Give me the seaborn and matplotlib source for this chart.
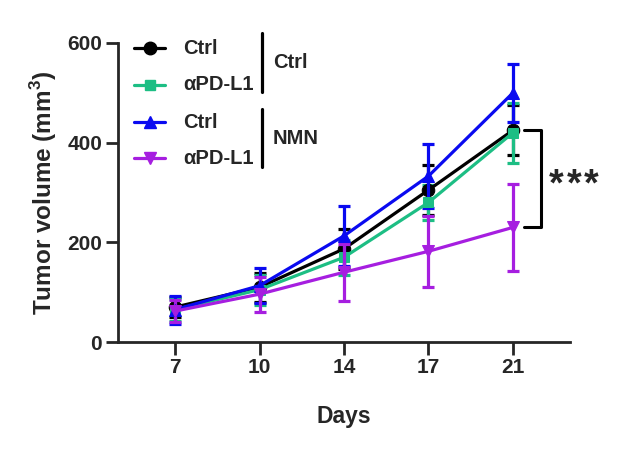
import matplotlib
matplotlib.use("Agg")
import matplotlib.pyplot as plt
from matplotlib.lines import Line2D
import seaborn as sns
import pandas as pd
import numpy as np

days = ["7", "10", "14", "17", "21"]
ctrl_ctrl = [70, 110, 187, 305, 425]
ctrl_ctrl_err = [20, 29, 40, 50, 50]
ctrl_pd = [65, 105, 170, 280, 420]
ctrl_pd_err = [22, 30, 35, 35, 60]
nmn_ctrl = [65, 113, 213, 333, 500]
nmn_ctrl_err = [28, 35, 60, 65, 58]
nmn_pd = [62, 96, 140, 182, 230]
nmn_pd_err = [22, 35, 57, 71, 88]

legend_labels = ["Ctrl", "αPD-L1", "Ctrl", "αPD-L1"]
group_labels = ["Ctrl", "NMN"]
series = [
    ("Ctrl/Ctrl", ctrl_ctrl, ctrl_ctrl_err, "#000000", "o", 9),
    ("Ctrl/aPD-L1", ctrl_pd, ctrl_pd_err, "#1DBE84", "s", 7.5),
    ("NMN/Ctrl", nmn_ctrl, nmn_ctrl_err, "#0A0AF0", "^", 8),
    ("NMN/aPD-L1", nmn_pd, nmn_pd_err, "#A61EE0", "v", 8),
]

sns.set_style("ticks")
plt.rcParams["font.family"] = ["Liberation Sans", "DejaVu Sans"]
plt.rcParams["font.weight"] = "bold"
plt.rcParams["mathtext.fontset"] = "custom"
plt.rcParams["mathtext.bf"] = "Liberation Sans:bold"
plt.rcParams["mathtext.rm"] = "Liberation Sans:bold"

W, H = 641, 449
fig = plt.figure(figsize=(W / 100, H / 100), dpi=100)
ax = fig.add_axes([118 / W, 1 - 342 / H, (570 - 118) / W, (342 - 43) / H])

x = np.arange(len(days))
rows = []
for name, m, e, c, mk, ms in series:
    for i, d in enumerate(days):
        rows.append({"pos": i, "val": m[i], "grp": name})
df = pd.DataFrame(rows)

draw_order = [3, 2, 1, 0]
for k in draw_order:
    name, m, e, c, mk, ms = series[k]
    ax.errorbar(x, m, yerr=e, fmt="none", ecolor=c, elinewidth=2.3, capsize=4.5, capthick=2.3, zorder=2 + k)
    sub = df[df["grp"] == name]
    sns.lineplot(data=sub, x="pos", y="val", ax=ax, color=c, marker=mk, markersize=ms,
                 markeredgecolor=c, linewidth=2.3, errorbar=None, zorder=3 + k, legend=False)

ax.set_xlim(-0.675, 4.675)
ax.set_ylim(0, 600)
ax.set_yticks([0, 200, 400, 600])
ax.set_xticks(x)
ax.set_xticklabels(days)
ax.tick_params(axis="both", width=2, length=9, labelsize=15, pad=2.5)
for lab in ax.get_xticklabels() + ax.get_yticklabels():
    lab.set_fontweight("bold")
for s in ["left", "bottom"]:
    ax.spines[s].set_linewidth(2)
sns.despine(ax=ax)
ax.set_xlabel("Days", fontsize=16.5, fontweight="bold", labelpad=20)
ax.set_ylabel("Tumor volume (mm$^{3}$)", fontsize=17.5, fontweight="bold", labelpad=6)

# significance bracket
xb = 4.33
xt = 4.13
top = ctrl_ctrl[-1]
bot = nmn_pd[-1]
ax.plot([xt, xb, xb, xt], [top, top, bot, bot], color="black", lw=2.2, clip_on=False)
for j in range(3):
    ax.annotate("*", xy=(4.43, (top + bot) / 2), xytext=(j * 12.3, -12), textcoords="offset points",
                fontsize=27, fontweight="bold", va="baseline", ha="left", annotation_clip=False)

# manual legend
def fx(px):
    return px / W
def fy(py):
    return 1 - py / H

row_y = [48, 85, 122, 158]
for i, (name, m, e, c, mk, ms) in enumerate(series):
    y = fy(row_y[i])
    fig.add_artist(Line2D([fx(134), fx(165)], [y, y], color=c, lw=2.3, transform=fig.transFigure))
    fig.add_artist(Line2D([fx(149.5)], [y], color=c, marker=mk, markersize=ms, transform=fig.transFigure))
    fig.text(fx(183), y, legend_labels[i], fontsize=14.5, fontweight="bold", va="center", ha="left")

for g, (y0, y1) in enumerate([(33, 92), (109, 167)]):
    fig.add_artist(Line2D([fx(262), fx(262)], [fy(y0), fy(y1)], color="black", lw=2.3, transform=fig.transFigure))
    fig.text(fx(273), fy((y0 + y1) / 2), group_labels[g], fontsize=14.5, fontweight="bold", va="center", ha="left")

fig.savefig("out.png", dpi=100)
